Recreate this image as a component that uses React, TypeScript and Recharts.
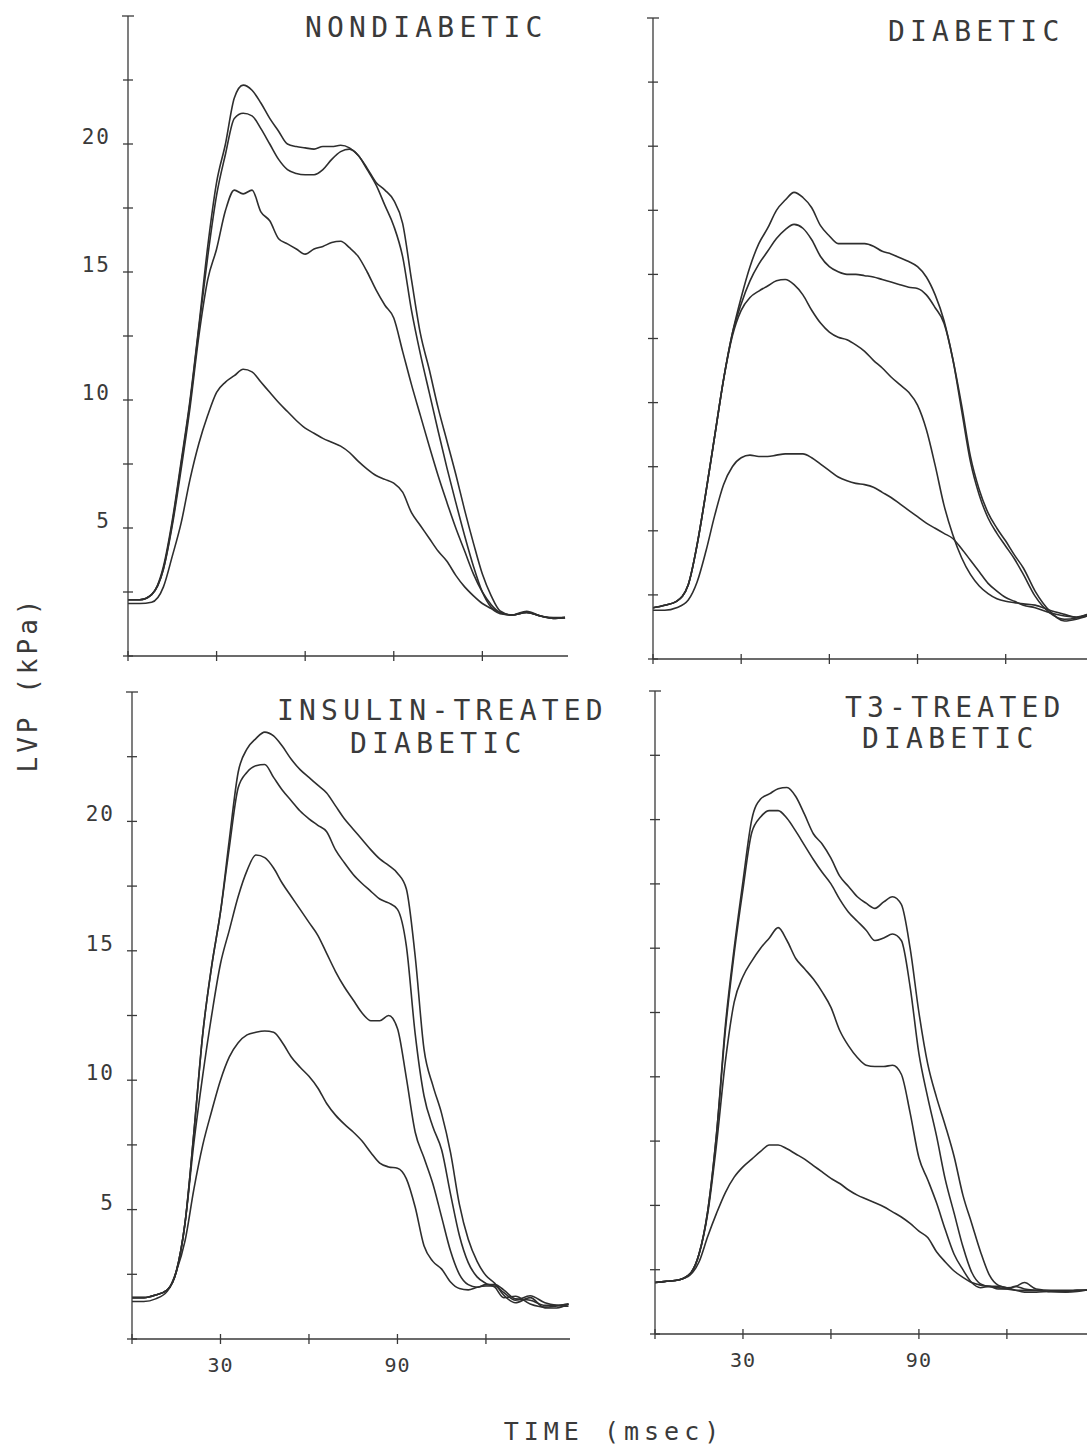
import React from 'react';
import { LineChart, Line, XAxis, YAxis } from 'recharts';

// time grid (msec)
const TIME = [0, 4, 8, 12, 15, 18, 21, 24, 27, 30, 33, 36, 39, 42, 45, 48, 51, 54, 57, 60, 63, 66, 69, 72, 75, 78, 81, 84, 87, 90, 93, 96, 99, 102, 105, 108, 111, 114, 117, 120, 123, 126, 130, 135, 140, 144, 148];

// NONDIABETIC (kPa)
const NON_A = [2.2, 2.2, 2.4, 3.5, 5.3, 7.6, 10, 12.9, 16, 18.5, 20, 21.8, 22.3, 22.1, 21.6, 21, 20.5, 20, 19.9, 19.85, 19.8, 19.9, 19.9, 19.95, 19.85, 19.55, 19.05, 18.5, 18.2, 17.8, 16.9, 14.7, 12.6, 11.2, 9.7, 8.4, 7.1, 5.7, 4.4, 3.2, 2.35, 1.76, 1.6, 1.7, 1.55, 1.5, 1.5];
const NON_B = [2.2, 2.2, 2.4, 3.4, 5.2, 7.5, 9.9, 12.8, 15.6, 18.0, 19.6, 21.0, 21.2, 21.1, 20.6, 20.0, 19.4, 19.0, 18.85, 18.8, 18.8, 19.0, 19.4, 19.7, 19.8, 19.55, 19.0, 18.4, 17.6, 16.8, 15.6, 13.5, 11.8, 10.3, 8.8, 7.35, 6.0, 4.7, 3.5, 2.5, 1.9, 1.7, 1.6, 1.75, 1.55, 1.48, 1.5];
const NON_C = [2.2, 2.2, 2.4, 3.4, 5.1, 7.3, 9.7, 12.5, 14.7, 15.9, 17.4, 18.2, 18.05, 18.2, 17.35, 17.0, 16.3, 16.1, 15.9, 15.7, 15.9, 16.0, 16.15, 16.2, 15.95, 15.6, 15.0, 14.3, 13.7, 13.2, 11.9, 10.6, 9.4, 8.2, 7.05, 6.0, 5.0, 4.1, 3.2, 2.5, 2.0, 1.7, 1.6, 1.7, 1.55, 1.47, 1.5];
const NON_D = [2.05, 2.05, 2.1, 2.7, 3.9, 5.2, 6.9, 8.3, 9.4, 10.3, 10.7, 10.95, 11.2, 11.1, 10.7, 10.3, 9.9, 9.55, 9.2, 8.9, 8.7, 8.5, 8.35, 8.2, 7.95, 7.6, 7.3, 7.05, 6.9, 6.75, 6.4, 5.6, 5.1, 4.6, 4.1, 3.7, 3.15, 2.7, 2.35, 2.05, 1.85, 1.65, 1.6, 1.7, 1.55, 1.47, 1.5];

// DIABETIC (kPa)
const DIA_A = [2.0, 2.1, 2.25, 2.9, 4.45, 6.5, 8.7, 10.9, 12.7, 14.1, 15.3, 16.2, 16.8, 17.5, 17.9, 18.2, 18.0, 17.6, 16.9, 16.5, 16.2, 16.2, 16.2, 16.2, 16.1, 15.9, 15.8, 15.65, 15.5, 15.3, 14.9, 14.2, 13.2, 11.7, 9.9, 7.9, 6.6, 5.7, 5.1, 4.6, 4.05, 3.55, 2.65, 1.87, 1.48, 1.55, 1.7];
const DIA_B = [2.0, 2.1, 2.25, 2.9, 4.45, 6.5, 8.7, 10.9, 12.7, 13.85, 14.75, 15.4, 15.9, 16.4, 16.75, 16.95, 16.8, 16.35, 15.7, 15.3, 15.1, 15.0, 15.0, 14.95, 14.9, 14.8, 14.7, 14.6, 14.5, 14.45, 14.2, 13.7, 13.1, 11.7, 9.7, 7.7, 6.4, 5.5, 4.9, 4.4, 3.9, 3.3, 2.45, 1.8, 1.55, 1.6, 1.75];
const DIA_C = [2.0, 2.1, 2.25, 2.9, 4.45, 6.5, 8.7, 10.9, 12.6, 13.6, 14.1, 14.35, 14.55, 14.75, 14.8, 14.6, 14.2, 13.6, 13.1, 12.75, 12.55, 12.45, 12.25, 12.0, 11.65, 11.35, 11.0, 10.7, 10.4, 9.9, 8.95, 7.55, 6.0, 4.85, 3.95, 3.3, 2.85, 2.55, 2.35, 2.25, 2.2, 2.15, 2.1, 1.9, 1.74, 1.62, 1.68];
const DIA_D = [1.9, 1.9, 2.0, 2.3, 3.0, 4.2, 5.6, 6.8, 7.5, 7.85, 7.95, 7.9, 7.9, 7.95, 8.0, 8.0, 8.0, 7.85, 7.6, 7.35, 7.1, 6.95, 6.85, 6.8, 6.7, 6.5, 6.3, 6.05, 5.8, 5.55, 5.3, 5.1, 4.9, 4.7, 4.3, 3.85, 3.4, 2.95, 2.65, 2.4, 2.25, 2.1, 2.0, 1.8, 1.68, 1.64, 1.74];

// INSULIN-TREATED DIABETIC (kPa)
const INS_A = [1.6, 1.6, 1.7, 1.9, 2.6, 4.5, 8.0, 11.8, 14.4, 16.5, 19.3, 21.9, 22.8, 23.2, 23.45, 23.3, 22.9, 22.4, 22.0, 21.7, 21.4, 21.1, 20.6, 20.1, 19.7, 19.3, 18.9, 18.55, 18.3, 18.0, 17.4, 14.8, 11.2, 9.8, 8.7, 7.2, 5.2, 3.85, 3.0, 2.45, 2.15, 1.7, 1.4, 1.6, 1.2, 1.2, 1.35];
const INS_B = [1.6, 1.6, 1.7, 1.9, 2.6, 4.5, 8.0, 11.8, 14.4, 16.5, 19.0, 21.3, 21.9, 22.15, 22.2, 21.7, 21.2, 20.8, 20.4, 20.1, 19.85, 19.6, 18.9, 18.4, 17.95, 17.6, 17.3, 17.0, 16.85, 16.6, 15.2, 11.8, 9.4, 8.2, 7.3, 5.6, 4.0, 2.95, 2.4, 2.15, 2.0, 1.6, 1.65, 1.35, 1.23, 1.28, 1.35];
const INS_C = [1.6, 1.6, 1.7, 1.9, 2.6, 4.5, 7.6, 10.2, 12.5, 14.5, 15.8, 17.1, 18.1, 18.7, 18.6, 18.2, 17.6, 17.1, 16.6, 16.1, 15.6, 14.9, 14.2, 13.6, 13.1, 12.6, 12.3, 12.3, 12.5, 12.0, 10.1, 8.0, 7.0, 6.0, 4.7, 3.4, 2.5, 2.1, 2.0, 2.1, 2.1, 1.9, 1.55, 1.5, 1.3, 1.3, 1.35];
const INS_D = [1.45, 1.45, 1.55, 1.85, 2.6, 3.8, 5.8, 7.5, 8.8, 10.0, 10.9, 11.45, 11.75, 11.85, 11.9, 11.85, 11.45, 10.9, 10.5, 10.15, 9.7, 9.1, 8.65, 8.3, 8.0, 7.65, 7.2, 6.8, 6.65, 6.6, 6.2, 5.1, 3.6, 3.0, 2.7, 2.2, 1.95, 1.9, 2.0, 2.05, 2.05, 1.8, 1.5, 1.67, 1.4, 1.3, 1.27];

// T3-TREATED DIABETIC (kPa)
const T3_A = [2.0, 2.05, 2.1, 2.35, 3.1, 4.8, 7.8, 12.0, 15.0, 17.6, 20.0, 20.8, 21.0, 21.2, 21.25, 20.9, 20.2, 19.45, 19.05, 18.5, 17.8, 17.4, 17.0, 16.75, 16.55, 16.8, 17.0, 16.7, 15.0, 12.5, 10.5, 9.2, 8.1, 6.9, 5.4, 4.3, 3.2, 2.3, 1.9, 1.8, 1.85, 2.0, 1.75, 1.7, 1.7, 1.7, 1.7];
const T3_B = [2.0, 2.05, 2.1, 2.35, 3.1, 4.8, 7.8, 11.8, 14.8, 17.3, 19.5, 20.1, 20.35, 20.35, 20.05, 19.55, 19.0, 18.45, 17.95, 17.5, 16.9, 16.4, 16.05, 15.7, 15.3, 15.4, 15.55, 15.3, 13.5, 10.9, 9.2, 7.7, 6.0, 4.7, 3.4, 2.4, 1.95, 1.85, 1.85, 1.8, 1.7, 1.63, 1.63, 1.65, 1.65, 1.7, 1.7];
const T3_C = [2.0, 2.05, 2.1, 2.35, 3.1, 4.7, 7.4, 10.6, 12.9, 13.9, 14.5, 15.0, 15.4, 15.8, 15.3, 14.6, 14.2, 13.8, 13.3, 12.7, 11.8, 11.2, 10.75, 10.45, 10.4, 10.4, 10.45, 10.1, 8.6, 6.85, 6.0, 5.1, 4.05, 3.1, 2.5, 2.0, 1.8, 1.85, 1.75, 1.75, 1.85, 1.75, 1.7, 1.65, 1.65, 1.7, 1.7];
const T3_D = [2.0, 2.05, 2.1, 2.3, 2.8, 3.8, 4.7, 5.5, 6.1, 6.5, 6.8, 7.1, 7.35, 7.35, 7.2, 7.0, 6.8, 6.55, 6.3, 6.05, 5.85, 5.6, 5.4, 5.25, 5.1, 4.95, 4.75, 4.55, 4.3, 4.0, 3.75, 3.2, 2.8, 2.45, 2.2, 2.0, 1.9, 1.85, 1.8, 1.75, 1.7, 1.7, 1.7, 1.65, 1.63, 1.65, 1.73];

const Y_TICKS = [0, 2.5, 5, 7.5, 10, 12.5, 15, 17.5, 20, 22.5, 25];
const X_TICKS = [0, 30, 60, 90, 120];
const Y_LABELS = [5, 10, 15, 20];
const X_LABELS = [30, 90];

const FONT = '"DejaVu Sans Mono", monospace';
const INK = '#3a3a3a';
const CURVE = '#2e2e2e';
const KEYS = ['a', 'b', 'c', 'd'];

type PanelProps = {
  series: number[][];
  left: number;
  right: number;
  top: number;
  bottom: number;
  xMax: number;
  showY: boolean;
  showX: boolean;
};

const W = 1100;
const H = 1452;
const YW = 60;
const XH = 40;

function Panel({ series, left, right, top, bottom, xMax, showY, showX }: PanelProps) {
  const data = TIME.map((t, i) => ({ t, a: series[0][i], b: series[1][i], c: series[2][i], d: series[3][i] }));
  const renderX = (p: any) => {
    const { x, y, payload } = p;
    return (
      <g>
        <line x1={x} x2={x} y1={y - 5} y2={y + 5} stroke={INK} strokeWidth={1.3} />
        {showX && X_LABELS.includes(payload.value) ? (
          <text x={x} y={y + 33} textAnchor="middle" fontFamily={FONT} fontSize={20} fill={INK} letterSpacing={1}>
            {payload.value}
          </text>
        ) : null}
      </g>
    );
  };
  const renderY = (p: any) => {
    const { x, y, payload } = p;
    const v = payload.value;
    const half = v === 25 ? 6 : 5;
    return (
      <g>
        <line x1={x - half} x2={x + half} y1={y} y2={y} stroke={INK} strokeWidth={1.3} />
        {showY && Y_LABELS.includes(v) ? (
          <text x={x - 17} y={y} textAnchor="end" fontFamily={FONT} fontSize={21} fill={INK} letterSpacing={2}>
            {v}
          </text>
        ) : null}
      </g>
    );
  };
  return (
    <div style={{ position: 'absolute', left: 0, top: 0 }}>
      <LineChart
        width={W}
        height={H}
        data={data}
        margin={{ left: left - YW, right: W - right, top, bottom: H - bottom - XH }}
      >
        <XAxis
          dataKey="t"
          type="number"
          domain={[0, xMax]}
          ticks={X_TICKS}
          interval={0}
          tickSize={0}
          tickMargin={0}
          height={XH}
          allowDataOverflow
          axisLine={{ stroke: INK, strokeWidth: 1.3 }}
          tickLine={false}
          tick={renderX}
        />
        <YAxis
          type="number"
          domain={[0, 25]}
          ticks={Y_TICKS}
          interval={0}
          tickSize={0}
          tickMargin={0}
          width={YW}
          allowDataOverflow
          axisLine={{ stroke: INK, strokeWidth: 1.3 }}
          tickLine={false}
          tick={renderY}
        />
        {KEYS.map((k) => (
          <Line
            key={k}
            dataKey={k}
            type="monotone"
            dot={false}
            stroke={CURVE}
            strokeWidth={1.6}
            isAnimationActive={false}
          />
        ))}
      </LineChart>
    </div>
  );
}

const TITLE = { fontFamily: FONT, fontSize: 28, fill: INK, letterSpacing: 5.2 } as const;

export default function App() {
  return (
    <div
      style={{
        position: 'absolute',
        left: 0,
        top: 0,
        width: 1087,
        height: 1452,
        overflow: 'hidden',
        background: '#fff',
      }}
    >
      <Panel series={[NON_A, NON_B, NON_C, NON_D]} left={128} right={568} top={16} bottom={656} xMax={149} showY showX={false} />
      <Panel series={[DIA_A, DIA_B, DIA_C, DIA_D]} left={653} right={1088} top={18} bottom={659} xMax={148} showY={false} showX={false} />
      <Panel series={[INS_A, INS_B, INS_C, INS_D]} left={132} right={570} top={692} bottom={1339} xMax={148.5} showY showX />
      <Panel series={[T3_A, T3_B, T3_C, T3_D]} left={655} right={1089} top={691} bottom={1334} xMax={148} showY={false} showX />
      <svg width={1087} height={1452} style={{ position: 'absolute', left: 0, top: 0, pointerEvents: 'none' }}>
        <text x={305} y={37} {...TITLE}>NONDIABETIC</text>
        <text x={888} y={41} {...TITLE}>DIABETIC</text>
        <text x={277} y={720} {...TITLE}>INSULIN-TREATED</text>
        <text x={350} y={753} {...TITLE}>DIABETIC</text>
        <text x={845} y={717} {...TITLE}>T3-TREATED</text>
        <text x={862} y={748} {...TITLE}>DIABETIC</text>
        <text
          x={0}
          y={0}
          transform="translate(37,684) rotate(-90)"
          textAnchor="middle"
          fontFamily={FONT}
          fontSize={26}
          fill={INK}
          letterSpacing={4}
        >
          LVP (kPa)
        </text>
        <text x={614} y={1440} textAnchor="middle" fontFamily={FONT} fontSize={25} fill={INK} letterSpacing={5}>
          TIME (msec)
        </text>
      </svg>
    </div>
  );
}
